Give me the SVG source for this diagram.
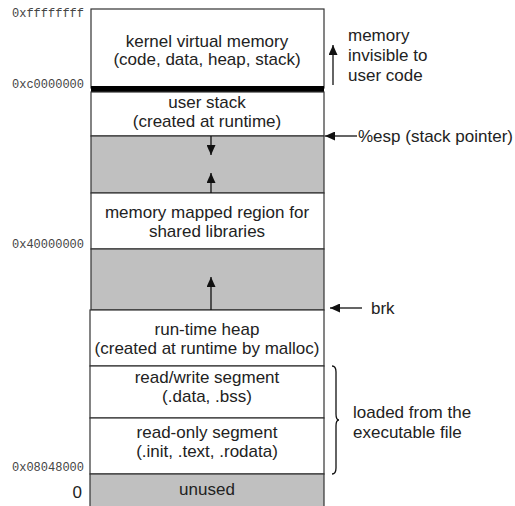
<svg xmlns="http://www.w3.org/2000/svg" width="515" height="506" viewBox="0 0 515 506">
<defs>
<marker id="ah" markerUnits="userSpaceOnUse" markerWidth="10" markerHeight="9" refX="10" refY="4.5" orient="auto">
<path d="M0,0 L10,4.5 L0,9 Z" fill="#111"/>
</marker>
<style>
.t{font-family:"Liberation Sans",Arial,sans-serif;font-size:17px;fill:#222;text-anchor:middle}
.r{font-family:"Liberation Sans",Arial,sans-serif;font-size:17px;fill:#222}
.m{font-family:"Liberation Mono","Courier New",monospace;font-size:12px;fill:#444;text-anchor:end}
.w{fill:#fff;stroke:#333;stroke-width:1.2}
.g{fill:#c0c0c0;stroke:#333;stroke-width:1.2}
.c{stroke:#111;stroke-width:1.3;fill:none}
</style>
</defs>
<rect width="515" height="506" fill="#fff"/>
<g id="kernel"><rect class="w" x="91" y="9" width="233" height="79"/>
<text class="t" x="207" y="47">kernel virtual memory</text>
<text class="t" x="207" y="65">(code, data, heap, stack)</text></g>
<g id="kernel-bar"><rect x="91" y="86" width="233" height="6" fill="#000"/></g>
<g id="user-stack"><rect class="w" x="91" y="92" width="233" height="44"/>
<text class="t" x="207" y="108">user stack</text>
<text class="t" x="207" y="127">(created at runtime)</text></g>
<g id="gap1"><rect class="g" x="91" y="136" width="233" height="57"/></g>
<g id="mmap"><rect class="w" x="91" y="193" width="233" height="56"/>
<text class="t" x="207" y="218">memory mapped region for</text>
<text class="t" x="207" y="237">shared libraries</text></g>
<g id="gap2"><rect class="g" x="91" y="249" width="233" height="61"/></g>
<g id="heap"><rect class="w" x="90" y="310" width="234" height="56"/>
<text class="t" x="207" y="335">run-time heap</text>
<text class="t" x="207" y="354">(created at runtime by malloc)</text></g>
<g id="rw"><rect class="w" x="90" y="366" width="234" height="52"/>
<text class="t" x="207" y="383">read/write segment</text>
<text class="t" x="207" y="402">(.data, .bss)</text></g>
<g id="ro"><rect class="w" x="90" y="418" width="234" height="56"/>
<text class="t" x="207" y="438">read-only segment</text>
<text class="t" x="207" y="457">(.init, .text, .rodata)</text></g>
<g id="unused"><rect class="g" x="90" y="474" width="234" height="40"/>
<text class="t" x="207" y="495">unused</text></g>
<g id="addresses">
<text class="m" x="84" y="17">0xffffffff</text>
<text class="m" x="84" y="88">0xc0000000</text>
<text class="m" x="84" y="248">0x40000000</text>
<text class="m" x="84" y="471">0x08048000</text>
<text class="r" x="82" y="498" text-anchor="end">0</text>
</g>
<g id="labels">
<text class="r" x="348" y="41">memory</text>
<text class="r" x="348" y="61">invisible to</text>
<text class="r" x="348" y="81">user code</text>
<text class="r" x="358" y="142">%esp (stack pointer)</text>
<text class="r" x="371" y="314">brk</text>
<text class="r" x="353" y="418">loaded from the</text>
<text class="r" x="353" y="438">executable file</text>
</g>
<g id="connectors">
<line class="c" x1="211" y1="136" x2="211" y2="155" marker-end="url(#ah)"/>
<line class="c" x1="211" y1="193" x2="211" y2="173" marker-end="url(#ah)"/>
<line class="c" x1="211" y1="310" x2="211" y2="277" marker-end="url(#ah)"/>
<line class="c" x1="333" y1="85" x2="333" y2="45" marker-end="url(#ah)"/>
<line class="c" x1="357" y1="136" x2="325" y2="136" marker-end="url(#ah)"/>
<line class="c" x1="362" y1="308" x2="330" y2="308" marker-end="url(#ah)"/>
<path class="c" stroke-width="1.1" d="M332,366 Q336,366 336,372 L336,414 Q336,420 339,420 Q336,420 336,426 L336,468 Q336,474 332,474"/>
</g>
</svg>
